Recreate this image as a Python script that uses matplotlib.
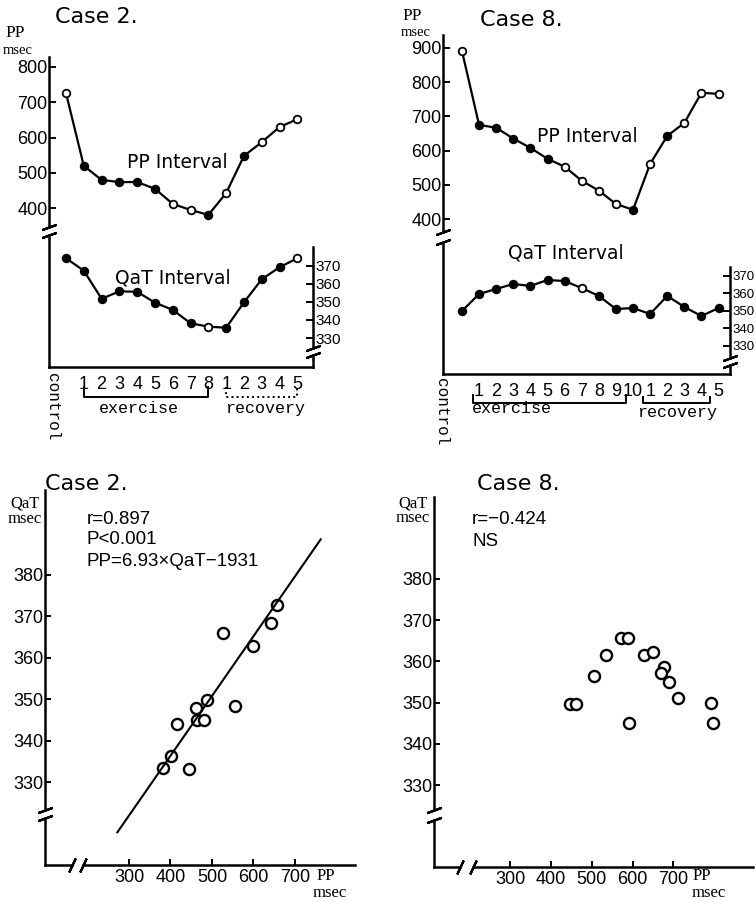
import numpy as np
import matplotlib.pyplot as plt
from matplotlib.transforms import blended_transform_factory

# Case 2 time course: control, exercise 1-8, recovery 1-5
case2_pp = [726, 520, 480, 474, 474, 455, 412, 395, 381, 443, 548, 587, 630, 652]
case2_qat = [374.3, 367.4, 351.8, 355.9, 355.7, 349.6, 345.6, 338.2, 336.3,
             335.7, 349.8, 362.6, 369.3, 374.3]
case2_ex = ["1", "2", "3", "4", "5", "6", "7", "8"]
case2_rec = ["1", "2", "3", "4", "5"]

# Case 8 time course: control, exercise 1-10, recovery 1-5
case8_pp = [891, 675, 667, 635, 608, 576, 553, 512, 483, 444, 427, 561, 643, 681, 769, 766]
case8_qat = [350.0, 359.7, 362.6, 365.4, 364.3, 367.7, 367.1, 363.1, 358.6, 351.1,
             351.7, 348.3, 358.6, 352.3, 347.1, 351.7]
case8_ex = ["1", "2", "3", "4", "5", "6", "7", "8", "9", "10"]
case8_rec = ["1", "2", "3", "4", "5"]

pp_ticks_case2 = [400, 500, 600, 700, 800]
pp_ticks_case8 = [400, 500, 600, 700, 800, 900]
qat_ticks = [330, 340, 350, 360, 370]

# PP vs QaT scatter
scat2_pp = [381, 402, 416, 445, 461, 464, 481, 488, 526, 555, 598, 642, 657]
scat2_qat = [333.5, 336.2, 344.0, 333.1, 347.8, 345.1, 345.1, 349.8, 365.9, 348.3, 362.8, 368.5, 372.8]
scat8_pp = [447, 461, 506, 535, 573, 590, 592, 627, 651, 678, 670, 689, 712, 792, 796]
scat8_qat = [349.7, 349.7, 356.5, 361.5, 365.6, 365.6, 345.1, 361.6, 362.2, 358.6,
             357.3, 354.9, 351.1, 350.0, 345.1]
scat_xticks = [300, 400, 500, 600, 700]
scat_yticks = [330, 340, 350, 360, 370, 380]

# regression for case 2: PP = 6.93 x QaT - 1931
reg_slope, reg_const = 6.93, -1931
reg_pp = [272, 762]

# open (white) markers in the time-course plots
case2_pp_open = [1, 0, 0, 0, 0, 0, 1, 1, 0, 1, 0, 1, 1, 1]
case2_qat_open = [0, 0, 0, 0, 0, 0, 0, 0, 1, 0, 0, 0, 0, 1]
case8_pp_open = [1, 0, 0, 0, 0, 0, 1, 1, 1, 1, 0, 1, 0, 1, 1, 1]
case8_qat_open = [0, 0, 0, 0, 0, 0, 0, 1, 0, 0, 0, 0, 0, 0, 0, 0]

plt.rcParams['font.family'] = ['Liberation Sans', 'DejaVu Sans']
plt.rcParams['axes.linewidth'] = 1.8

W, H = 756, 902
fig = plt.figure(figsize=(W / 100, H / 100), dpi=100)

SERIF = ['Liberation Serif', 'DejaVu Serif']
MONO = ['Liberation Mono', 'DejaVu Sans Mono']


def box(l, t, r, b):
    return [l / W, 1 - b / H, (r - l) / W, (b - t) / H]


def ftext(px, py, s, **kw):
    kw.setdefault('va', 'center')
    fig.text(px / W, 1 - py / H, s, **kw)


def brk(ax, x, y, angle, size=11):
    ax.plot([x], [y], marker=(2, 2, angle), ms=size, mec='k', mew=1.6,
            ls='', clip_on=False)


def bracket(ax, x0, x1, ytop, ybot, ls='-'):
    tr = blended_transform_factory(ax.transData, fig.transFigure)
    ax.plot([x0, x0, x1, x1], [1 - ytop / H, 1 - ybot / H, 1 - ybot / H, 1 - ytop / H],
            color='k', lw=1.4, ls=ls, transform=tr, clip_on=False)


def course(pbox, qbox, pp, qat, pp_open, qat_open, xlim, pp_lim, pp_ticks,
           q_lim, q_top, q_gap, labels, qsize=11):
    xs = np.arange(len(pp))
    axp = fig.add_axes(box(*pbox))
    axq = fig.add_axes(box(*qbox))
    for a, vals, opn in ((axp, pp, pp_open), (axq, qat, qat_open)):
        a.plot(xs, vals, color='k', lw=1.6, zorder=2)
        for x, y, o in zip(xs, vals, opn):
            a.plot(x, y, 'o', ms=5.5, mec='k', mew=1.3,
                   mfc='white' if o else 'k', zorder=3)
        a.patch.set_alpha(0)
        a.spines['top'].set_visible(False)

    axp.spines['right'].set_visible(False)
    axp.spines['bottom'].set_visible(False)
    axp.set_xticks([])
    axp.set_yticks(pp_ticks)
    axp.tick_params(axis='y', direction='in', length=5, width=1.4, pad=1, labelsize=13)

    axq.yaxis.tick_right()
    axq.set_yticks(qat_ticks)
    axq.tick_params(axis='y', direction='in', length=5, width=1.4, pad=1.5, labelsize=qsize)
    axq.spines['right'].set_bounds(q_gap[1], q_top)
    axq.plot([xlim[1]] * 2, [q_lim[0], q_gap[0]], color='k', lw=1.8, clip_on=False)
    axq.set_xticks(xs[1:])
    axq.set_xticklabels(labels)
    axq.tick_params(axis='x', length=0, pad=6.5, labelsize=13)

    brk(axp, xlim[0], pp_lim[0], -70)
    brk(axq, xlim[0], q_lim[1], -70)
    brk(axq, xlim[1], q_gap[0], -70)
    brk(axq, xlim[1], q_gap[1], -70)

    for a in (axp, axq):
        a.set_xlim(xlim)
    axp.set_ylim(pp_lim)
    axq.set_ylim(q_lim)
    return axp, axq


def scatter_panel(bbox, pp, qat, xlim, ylim, ygap, xgap):
    ax = fig.add_axes(box(*bbox))
    ax.plot(pp, qat, 'o', ls='', ms=8, mfc='white', mec='k', mew=1.7)
    ax.set_xticks(scat_xticks)
    ax.set_yticks(scat_yticks)
    ax.tick_params(direction='in', length=4, width=1.4, labelsize=13)
    ax.tick_params(axis='y', pad=1)
    ax.tick_params(axis='x', pad=3)
    ax.spines['top'].set_visible(False)
    ax.spines['right'].set_visible(False)
    ax.spines['left'].set_bounds(ygap[1], ylim[1])
    ax.spines['bottom'].set_bounds(xgap[1], xlim[1])
    ax.plot([xlim[0]] * 2, [ylim[0], ygap[0]], color='k', lw=1.8, clip_on=False)
    ax.plot([xlim[0], xgap[0]], [ylim[0]] * 2, color='k', lw=1.8, clip_on=False)
    brk(ax, xlim[0], ygap[0], -70)
    brk(ax, xlim[0], ygap[1], -70)
    brk(ax, xgap[0], ylim[0], -25)
    brk(ax, xgap[1], ylim[0], -25)
    ax.set_xlim(xlim)
    ax.set_ylim(ylim)
    return ax


# ---------- top left: Case 2 time course ----------
p2, q2 = course((49, 57, 313, 227), (49, 235, 313, 367), case2_pp, case2_qat,
                case2_pp_open, case2_qat_open, (-0.955, 13.88), (346.7, 828.3),
                pp_ticks_case2, (313.9, 387.2), 380.6, (320.6, 324.4),
                case2_ex + case2_rec)
tr2 = blended_transform_factory(q2.transData, fig.transFigure)
bracket(q2, 1, 8, 387, 397)
bracket(q2, 9, 13, 387, 397, ls=':')
q2.text(4.1, 1 - 408 / H, 'exercise', transform=tr2, ha='center', va='center',
        family=MONO, size=12)
q2.text(11.2, 1 - 408 / H, 'recovery', transform=tr2, ha='center', va='center',
        family=MONO, size=12)
ftext(52, 373, 'control', rotation=-90, va='top', ha='center', family=MONO, size=11.5)
ftext(55, 17, 'Case 2.', family='DejaVu Sans', size=16)
ftext(5, 33, 'PP', family=SERIF, size=12.5)
ftext(3, 50, 'msec', family=SERIF, size=10.5)
ftext(127, 163, 'PP Interval', family='DejaVu Sans', size=13.5)
ftext(115, 278, 'QaT Interval', family='DejaVu Sans', size=13.5)

# ---------- top right: Case 8 time course ----------
p8, q8 = course((443, 35, 730, 232), (443, 242, 730, 374), case8_pp, case8_qat,
                case8_pp_open, case8_qat_open, (-1.11, 15.67), (362, 938),
                pp_ticks_case8, (314, 389.4), 375, (319.1, 323.1),
                case8_ex + case8_rec, qsize=9.5)
tr8 = blended_transform_factory(q8.transData, fig.transFigure)
bracket(q8, 0.65, 9.6, 395, 403)
bracket(q8, 10.6, 14.5, 397, 403)
q8.text(2.9, 1 - 409 / H, 'exercise', transform=tr8, ha='center', va='center',
        family=MONO, size=12)
q8.text(12.6, 1 - 413 / H, 'recovery', transform=tr8, ha='center', va='center',
        family=MONO, size=12)
ftext(441, 378, 'control', rotation=-90, va='top', ha='center', family=MONO, size=11.5)
ftext(480, 20, 'Case 8.', family='DejaVu Sans', size=16)
ftext(402, 16, 'PP', family=SERIF, size=12.5)
ftext(401, 32, 'msec', family=SERIF, size=10.5)
ftext(537, 137, 'PP Interval', family='DejaVu Sans', size=13.5)
ftext(508, 253, 'QaT Interval', family='DejaVu Sans', size=13.5)

# ---------- bottom left: Case 2 scatter ----------
s2 = scatter_panel((45, 490, 355, 865), scat2_pp, scat2_qat, (97.6, 844.6),
                   (310, 400.5), (321.3, 323.2), (162.7, 189))
s2.plot(reg_pp, [(p - reg_const) / reg_slope for p in reg_pp], color='k', lw=1.5)
ftext(45, 484, 'Case 2.', family='DejaVu Sans', size=16)
ftext(25, 503, 'QaT', ha='center', family=SERIF, size=12)
ftext(25, 519, 'msec', ha='center', family=SERIF, size=12)
ftext(87, 520, 'r=0.897', size=13.5)
ftext(87, 540, 'P<0.001', size=13.5)
ftext(87, 561, 'PP=6.93\u00d7QaT\u22121931', size=13.5)
ftext(317, 876, 'PP', family=SERIF, size=12)
ftext(313, 893, 'msec', family=SERIF, size=12)

# ---------- bottom right: Case 8 scatter ----------
s8 = scatter_panel((434, 497, 753, 867), scat8_pp, scat8_qat, (113.9, 895),
                   (310.1, 399.9), (321.5, 323.9), (177.5, 209.4))
ftext(477, 484, 'Case 8.', family='DejaVu Sans', size=16)
ftext(413, 503, 'QaT', ha='center', family=SERIF, size=12)
ftext(413, 518, 'msec', ha='center', family=SERIF, size=12)
ftext(472, 520, 'r=\u22120.424', size=13.5)
ftext(472, 541, 'NS', size=13.5)
ftext(693, 876, 'PP', family=SERIF, size=12)
ftext(692, 893, 'msec', family=SERIF, size=12)

fig.savefig('out.png', dpi=100)
